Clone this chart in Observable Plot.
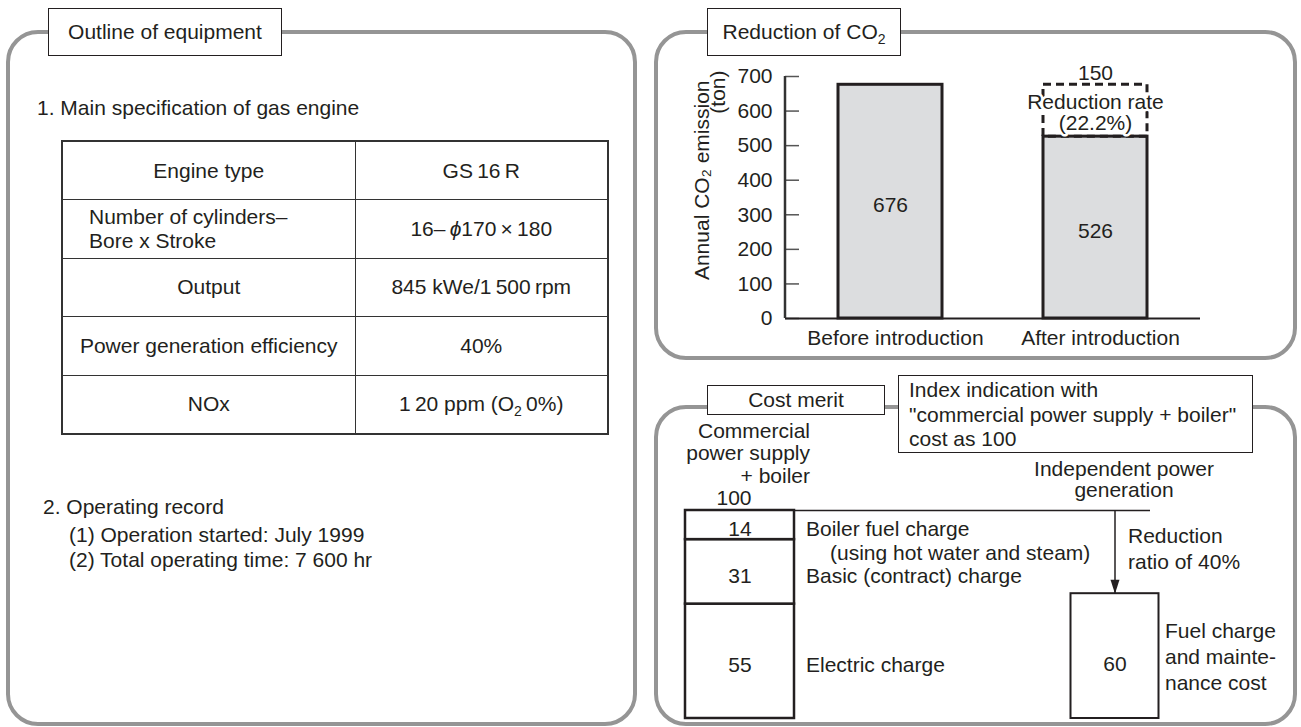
<!DOCTYPE html>
<html>
<head>
<meta charset="utf-8">
<title>Gas engine cogeneration: outline of equipment, CO2 reduction and cost merit</title>
<script src="https://cdn.jsdelivr.net/npm/d3@7"></script>
<script src="https://cdn.jsdelivr.net/npm/@observablehq/plot@0.6"></script>
<style>
  html, body { margin: 0; padding: 0; background: #fff; }
  body { width: 1301px; height: 727px; position: relative; overflow: hidden;
         font-family: "Liberation Sans", Arial, Helvetica, sans-serif; font-size: 21px; color: #231f20; }
  .panel { position: absolute; box-sizing: border-box; border: 4px solid #959595; border-radius: 32px; }
  .tag { position: absolute; box-sizing: border-box; border: 1.5px solid #231f20; background: #fff;
         white-space: nowrap; line-height: 24px; }
  .tag.center { display: flex; align-items: center; justify-content: center; }
  .line { position: absolute; white-space: nowrap; line-height: 24px; height: 24px; }
  .chart { position: absolute; }
  sub { font-size: 14px; position: relative; top: 5px; vertical-align: baseline; line-height: 0; }
  table.spec { position: absolute; border-collapse: collapse; table-layout: fixed; border: 2px solid #333; }
  table.spec td { border: 1.5px solid #333; padding: 0; text-align: center; vertical-align: middle; line-height: 24px; }
  table.spec td.left { text-align: left; padding-left: 26px; }
</style>
</head>
<body>
<!-- rounded section frames -->
<div class="panel" style="left:6px;top:30px;width:631px;height:696px"></div>
<div class="panel" style="left:654px;top:30px;width:643px;height:330px"></div>
<div class="panel" style="left:654px;top:405px;width:643px;height:321px"></div>

<div id="co2" class="chart" style="left:660px;top:40px"></div>
<div id="cost" class="chart" style="left:660px;top:420px"></div>
<div id="outline"></div>

<!-- section headings -->
<div class="tag center" style="left:48px;top:8px;width:234px;height:48px"><span>Outline of equipment</span></div>
<div class="tag center" style="left:707px;top:8px;width:194px;height:48px"><span>Reduction of CO<sub>2</sub></span></div>
<div class="tag center" style="left:707px;top:385px;width:178px;height:30px"><span>Cost merit</span></div>
<div id="indexNote" class="tag" style="left:898px;top:375px;width:355px;height:78px;padding:2px 0 0 10px;line-height:24.5px"></div>

<script>
// ---------- Outline of equipment ----------
const specHeading = "1. Main specification of gas engine";
const specItems = ["Engine type", "Number of cylinders–\nBore x Stroke", "Output", "Power generation efficiency", "NOx"];
const specValues = ["GS\u200916\u2009R", "16–\u2009ϕ170\u2009×\u2009180", "845 kWe/1\u2009500\u2009rpm", "40%", "1\u200920 ppm (O₂\u20090%)"];
const recordHeading = "2. Operating record";
const recordLines = ["(1) Operation started: July 1999", "(2) Total operating time: 7 600 hr"];

// ---------- Reduction of CO2 ----------
const stages = ["Before introduction", "After introduction"];
const emission = [676, 526];            // annual CO2 emission, ton
const reductionLabel = "150";
const reductionRate = "(22.2%)";
const yTicks = [0, 100, 200, 300, 400, 500, 600, 700];
const yTitle = ["Annual CO₂ emission", "(ton)"];

// ---------- Cost merit ----------
const systems = ["Commercial\npower supply\n+ boiler", "Independent power\ngeneration"];
const costParts = ["Electric charge", "Basic (contract) charge", "Boiler fuel charge"];
const costShares = [55, 31, 14];
const costNotes = ["", "", "(using hot water and steam)"];
const independentPart = "Fuel charge\nand mainte-\nnance cost";
const independentCost = 60;
const reductionNote = "Reduction\nratio of 40%";
const indexNote = ["Index indication with", "\"commercial power supply + boiler\"", "cost as 100"];

const ink = "#231f20";
const plotStyle = {fontFamily: '"Liberation Sans", Arial, Helvetica, sans-serif', fontSize: "21px",
                   color: ink, background: "none", overflow: "visible"};
const sub2 = (s) => s.replace(/₂/g, "<sub>2</sub>");

// ----- left section (HTML text and table) -----
const outline = document.getElementById("outline");
function addLine(text, left, centerY) {
  const d = document.createElement("div");
  d.className = "line";
  d.style.left = left + "px";
  d.style.top = (centerY - 12) + "px";
  d.innerHTML = sub2(text);
  outline.appendChild(d);
}
addLine(specHeading, 37, 108);
const table = document.createElement("table");
table.className = "spec";
Object.assign(table.style, {left: "61px", top: "140px", width: "546px", height: "293px"});
const cg = document.createElement("colgroup");
cg.innerHTML = '<col style="width:293px"><col style="width:253px">';
table.appendChild(cg);
specItems.forEach((item, i) => {
  const tr = document.createElement("tr");
  tr.style.height = (293 / specItems.length) + "px";
  const a = document.createElement("td");
  if (item.includes("\n")) a.className = "left";
  a.innerHTML = item.split("\n").join("<br>");
  const b = document.createElement("td");
  b.innerHTML = sub2(specValues[i]).replace("ϕ", "<i>ϕ</i>");
  tr.appendChild(a); tr.appendChild(b);
  table.appendChild(tr);
});
outline.appendChild(table);
addLine(recordHeading, 43, 507);
recordLines.forEach((t, i) => addLine(t, 69, 535 + i * 25));

document.getElementById("indexNote").innerHTML = indexNote.map(s => `<div>${s}</div>`).join("");

// ----- CO2 bar chart -----
const co2 = stages.map((stage, i) => ({stage, value: emission[i]}));
const cut = [{stage: stages[1], low: emission[1], high: emission[0]}];

const co2Chart = Plot.plot({
  width: 620, height: 315,
  marginLeft: 125, marginRight: 80, marginTop: 36, marginBottom: 37,
  style: plotStyle,
  x: {type: "band", domain: stages, paddingInner: 0.493, paddingOuter: 0.254, align: 0.5, label: null},
  y: {domain: [0, 700], label: null},
  marks: [
    Plot.ruleY(yTicks, {stroke: "#555", strokeWidth: 1.5, insetRight: 401}),
    Plot.axisY({ticks: yTicks, tickSize: 0, tickPadding: 13, label: null}),
    Plot.axisX({tickSize: 0, tickPadding: 12, dx: 5, label: null}),
    Plot.barY(co2, {x: "stage", y: "value", fill: "#dcdddf", stroke: ink, strokeWidth: 3}),
    Plot.barY(cut, {x: "stage", y1: "low", y2: "high", fill: "none", stroke: ink, strokeWidth: 3, strokeDasharray: "8,5"}),
    Plot.ruleY([0], {stroke: ink, strokeWidth: 2}),
    Plot.text(co2, {x: "stage", y: d => d.value / 2, text: d => String(d.value), dy: 4}),
    Plot.text(cut, {x: "stage", y: "high", text: () => reductionLabel, lineAnchor: "bottom", dy: -5}),
    Plot.text(cut, {x: "stage", y: d => (d.low + d.high) / 2, text: () => "Reduction rate\n" + reductionRate,
                    lineHeight: 1.0, dy: 2, fill: ink, stroke: "white", strokeWidth: 5}),
    Plot.text([yTitle[0]], {frameAnchor: "top-left", text: d => d, rotate: -90, textAnchor: "end", dx: -91, dy: 4}),
    Plot.text([yTitle[1]], {frameAnchor: "top-left", text: d => d, rotate: -90, textAnchor: "end", dx: -75, dy: -6})
  ]
});
{
  // vertical axis line, placed with the chart's own scales
  const xs = co2Chart.scale("x"), ys = co2Chart.scale("y");
  d3.select(co2Chart).append("line")
    .attr("x1", xs.range[0]).attr("x2", xs.range[0])
    .attr("y1", ys.apply(0)).attr("y2", ys.apply(d3.max(yTicks)))
    .attr("stroke", "#333").attr("stroke-width", 2.5);
}
document.getElementById("co2").appendChild(co2Chart);

// ----- cost merit index chart -----
const conventional = costParts.map((part, i) => ({system: systems[0], part, value: costShares[i], note: costNotes[i]}));
const independent = [{system: systems[1], part: independentPart, value: independentCost}];
const total = d3.sum(costShares);

const costChart = Plot.plot({
  width: 630, height: 306,
  marginLeft: 25, marginRight: 120.5, marginTop: 90, marginBottom: 8,
  style: plotStyle,
  x: {type: "band", domain: systems, paddingInner: 0.7097, paddingOuter: 0, align: 0.5, axis: null},
  y: {domain: [0, 100], axis: null},
  marks: [
    Plot.ruleY([total], {stroke: ink, strokeWidth: 1.5, insetRight: 19.5}),
    Plot.barY(conventional, Plot.stackY({x: "system", y: "value", fill: "white", stroke: ink, strokeWidth: 2.5})),
    Plot.barY(independent, {x: "system", y: "value", fill: "white", stroke: ink, strokeWidth: 2, insetLeft: 10.5, insetRight: 10.5}),
    // reduction arrow: shaft from the 100 level down to the 60 bar, with a filled spike head
    Plot.ruleX(independent, {x: "system", y1: () => total, y2: "value", stroke: ink, strokeWidth: 1.5}),
    Plot.vector(independent, {x: "system", y: "value", length: 14, rotate: 180, anchor: "end",
                              shape: "spike", r: 4.5, fill: ink, stroke: "none"}),
    Plot.text(conventional, Plot.stackY({x: "system", y: "value", text: "value", dy: 4})),
    Plot.text(conventional, Plot.stackY({x: "system", y: "value", text: "part", textAnchor: "start", dx: 66, dy: 4})),
    Plot.text(conventional, Plot.stackY({x: "system", y: "value", text: "note", textAnchor: "start", dx: 90, dy: 28})),
    Plot.text(independent, {x: "system", y: d => d.value / 2, text: "value", dy: 8}),
    Plot.text(independent, {x: "system", y: d => d.value / 2, text: "part", textAnchor: "start", dx: 50, lineHeight: 1.24}),
    Plot.text(independent, {x: "system", y: d => (total + d.value) / 2, text: () => reductionNote,
                            textAnchor: "start", dx: 13, dy: -4, lineHeight: 1.24}),
    Plot.text([total], {x: () => systems[0], y: d => d, text: d => String(d), lineAnchor: "bottom", dx: -6, dy: -6}),
    Plot.text([systems[0]], {x: d => d, y: () => total, text: d => d, textAnchor: "end", lineAnchor: "bottom",
                             dx: 70, dy: -28, lineHeight: 1.05}),
    Plot.text([systems[1]], {x: d => d, y: () => total, text: d => d, lineAnchor: "bottom",
                             dx: 9, dy: -14, lineHeight: 0.97})
  ]
});
document.getElementById("cost").appendChild(costChart);
</script>
</body>
</html>
